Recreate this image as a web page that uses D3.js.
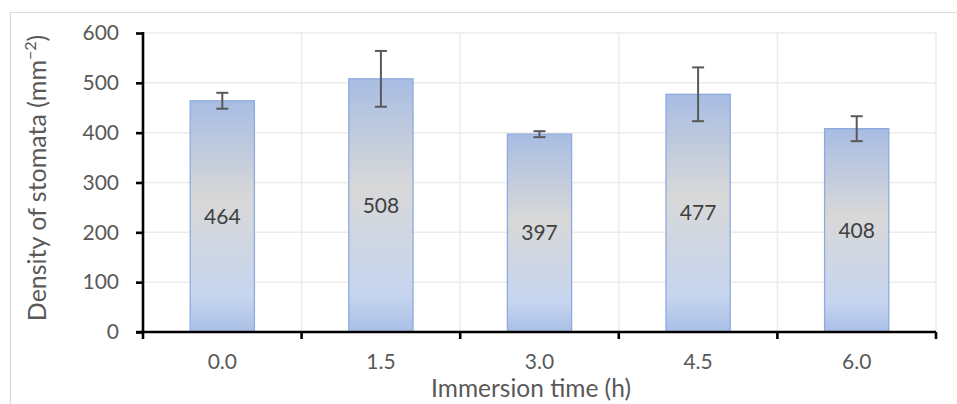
<!DOCTYPE html>
<html>
<head>
<meta charset="utf-8">
<script src="https://cdn.jsdelivr.net/npm/d3@7"></script>
<style>
  html, body { margin: 0; padding: 0; background: #fff; }
  svg { display: block; }
  text { font-family: Lato, "Open Sans", sans-serif; }
</style>
</head>
<body>
<svg id="chart" width="957" height="404"></svg>
<script>
const categories = ["0.0", "1.5", "3.0", "4.5", "6.0"];
const values = [464, 508, 397, 477, 408];
const errors = [16, 56, 6, 54, 25];
const yTicks = [0, 100, 200, 300, 400, 500, 600];
const xTitle = "Immersion time (h)";
const yTitle = "Density of stomata (mm";

(function () {
const svg = d3.select("#chart");
const W = 957, H = 404;
const pL = 143, pR = 936, pT = 33, pB = 332;

// outer border
svg.append("path").attr("d", `M10.5,${H + 2} L10.5,12.5 L${W + 2},12.5`)
  .attr("fill", "none").attr("stroke", "#d9d9d9").attr("stroke-width", 1.2);

const x = d3.scaleBand().domain(categories).range([pL, pR]).paddingInner(0).paddingOuter(0);
const y = d3.scaleLinear().domain([0, 600]).range([pB, pT]);

const defs = svg.append("defs");
const grad = defs.append("linearGradient").attr("id", "barGrad")
  .attr("x1", 0).attr("y1", 0).attr("x2", 0).attr("y2", 1);
[["0%", "#a8bde3"], ["43%", "#d8d8d8"], ["85%", "#c6d5ef"], ["100%", "#a9bfe6"]]
  .forEach(([o, c]) => grad.append("stop").attr("offset", o).attr("stop-color", c));

// gridlines
const grid = svg.append("g");
grid.selectAll("line.h").data(yTicks.slice(1)).join("line")
  .attr("x1", pL).attr("x2", pR)
  .attr("y1", d => y(d)).attr("y2", d => y(d))
  .attr("stroke", "#ececec").attr("stroke-width", 1.5);
const bounds = categories.slice(1).map(c => x(c)).concat([pR]);
grid.selectAll("line.v").data(bounds).join("line")
  .attr("x1", d => d).attr("x2", d => d)
  .attr("y1", pT).attr("y2", pB)
  .attr("stroke", "#ececec").attr("stroke-width", 1.5);

// bars
const barW = x.bandwidth() * 0.405;
svg.append("g").selectAll("rect").data(values).join("rect")
  .attr("x", (d, i) => x(categories[i]) + x.bandwidth() / 2 - barW / 2)
  .attr("y", d => y(d))
  .attr("width", barW)
  .attr("height", d => y(0) - y(d))
  .attr("fill", "url(#barGrad)")
  .attr("stroke", "#8eaadf").attr("stroke-width", 1.3);

// error bars
const eb = svg.append("g").attr("stroke", "#595959").attr("stroke-width", 2);
values.forEach((v, i) => {
  const cx = x(categories[i]) + x.bandwidth() / 2;
  const y1 = y(v + errors[i]), y2 = y(v - errors[i]);
  eb.append("line").attr("x1", cx).attr("x2", cx).attr("y1", y1).attr("y2", y2);
  eb.append("line").attr("x1", cx - 6).attr("x2", cx + 6).attr("y1", y1).attr("y2", y1);
  eb.append("line").attr("x1", cx - 6).attr("x2", cx + 6).attr("y1", y2).attr("y2", y2);
});

// data labels
svg.append("g").selectAll("text").data(values).join("text")
  .attr("x", (d, i) => x(categories[i]) + x.bandwidth() / 2)
  .attr("y", d => (y(d) + y(0)) / 2)
  .attr("dy", "0.35em")
  .attr("text-anchor", "middle")
  .attr("font-size", 21).attr("fill", "#404040")
  .text(d => d);

// y axis
const yAxis = svg.append("g").attr("transform", `translate(${pL},0)`)
  .call(d3.axisLeft(y).tickValues(yTicks).tickSize(7).tickPadding(17).tickFormat(d3.format("d")));
yAxis.select(".domain").attr("stroke", "#000").attr("stroke-width", 2.6)
  .attr("d", `M0,${pT - 1}V${pB + 7}`);
yAxis.selectAll(".tick line").attr("stroke", "#000").attr("stroke-width", 2.6);
yAxis.selectAll(".tick text").attr("font-size", 21).attr("fill", "#595959")
  .attr("font-family", "Lato, sans-serif");

// x axis
const xAxis = svg.append("g").attr("transform", `translate(0,${pB})`)
  .call(d3.axisBottom(x).tickSize(0).tickPadding(22));
xAxis.select(".domain").attr("stroke", "#000").attr("stroke-width", 2.6)
  .attr("d", `M${pL - 7},0H${pR}`);
xAxis.selectAll(".tick text").attr("font-size", 21).attr("fill", "#595959")
  .attr("font-family", "Lato, sans-serif").attr("dy", "0.71em");
xAxis.append("g").selectAll("line").data(bounds).join("line")
  .attr("x1", d => d).attr("x2", d => d).attr("y1", 0).attr("y2", 7)
  .attr("stroke", "#000").attr("stroke-width", 2.6);

// axis titles
svg.append("text").attr("x", 531).attr("y", 397)
  .attr("text-anchor", "middle").attr("font-size", 24.5).attr("fill", "#595959")
  .text(xTitle);

const yt = svg.append("text").attr("transform", "translate(46,178) rotate(-90)")
  .attr("text-anchor", "middle").attr("font-size", 25).attr("fill", "#595959");
yt.append("tspan").text(yTitle);
yt.append("tspan").attr("font-size", 16).attr("dy", -10).text("−2");
yt.append("tspan").attr("dy", 10).text(")");
})();
</script>
</body>
</html>
